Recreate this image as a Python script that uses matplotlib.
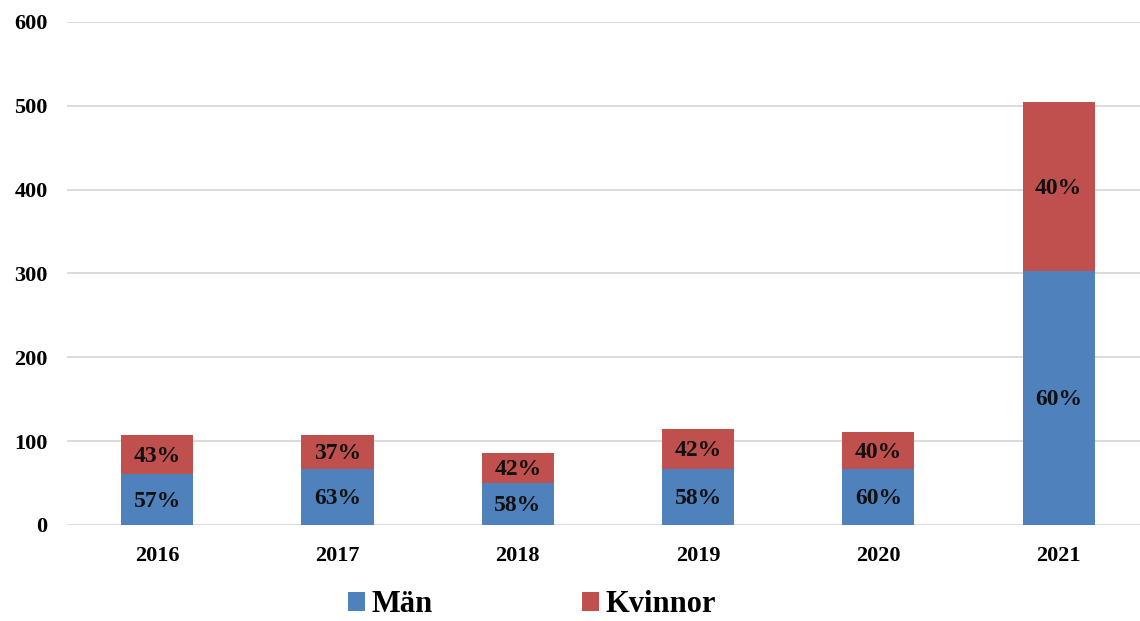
import matplotlib
matplotlib.use("Agg")
import matplotlib.pyplot as plt
import numpy as np

years = ["2016", "2017", "2018", "2019", "2020", "2021"]
man = [61, 67, 50, 67, 67, 303]
kvinnor = [46, 40, 36, 48, 44, 201]
man_pct = ["57%", "63%", "58%", "58%", "60%", "60%"]
kvinnor_pct = ["43%", "37%", "42%", "42%", "40%", "40%"]
y_ticks = [0, 100, 200, 300, 400, 500, 600]

plt.rcParams['font.family'] = ['Liberation Serif', 'DejaVu Serif']
plt.rcParams['font.weight'] = 'bold'

fig = plt.figure(figsize=(11.4, 6.21), dpi=100)
ax = fig.add_axes([0.0588, 0.1546, 0.949, 0.81])

x = np.arange(len(years))
blue = "#4F81BD"
red = "#C0504D"
w = 0.40
b1 = ax.bar(x, man, w, color=blue, label="Män", zorder=3)
b2 = ax.bar(x, kvinnor, w, bottom=man, color=red, label="Kvinnor", zorder=3)

for i in range(len(years)):
    ax.text(x[i], man[i] / 2 - 2, man_pct[i], ha='center', va='center',
            fontsize=17, fontweight='bold', color='#111111', zorder=4)
    ax.text(x[i], man[i] + kvinnor[i] / 2 - 2, kvinnor_pct[i], ha='center', va='center',
            fontsize=17, fontweight='bold', color='#111111', zorder=4)

ax.set_ylim(0, 600)
ax.set_xlim(-0.5, 5.5)
ax.set_yticks(y_ticks)
ax.set_xticks(x)
ax.set_xticklabels(years)
ax.tick_params(axis='both', length=0, labelsize=16)
ax.tick_params(axis='x', pad=15)
ax.tick_params(axis='y', pad=14)
for lab in ax.get_xticklabels() + ax.get_yticklabels():
    lab.set_fontweight('bold')
ax.grid(axis='y', color='#D9D9D9', linewidth=1.3, zorder=0)
for s in ax.spines.values():
    s.set_visible(False)

fig.legend(handles=[b1, b2], labels=["Män", "Kvinnor"], loc='center',
           bbox_to_anchor=(0.4667, 0.026), ncol=2, frameon=False,
           prop={'family': 'Liberation Serif', 'weight': 'bold', 'size': 22},
           handlelength=0.55, handleheight=0.55, handletextpad=0.2,
           columnspacing=4.9)

fig.savefig("out.png", dpi=100)
